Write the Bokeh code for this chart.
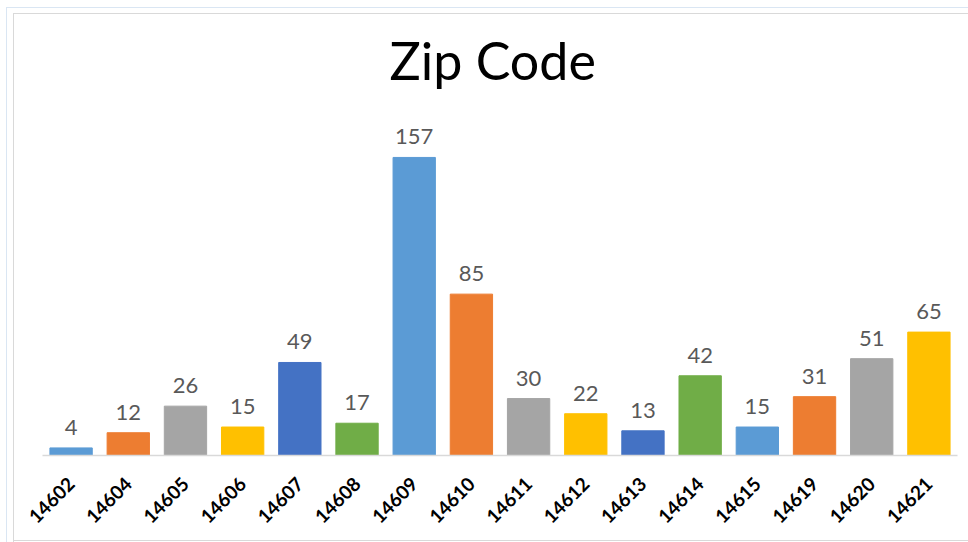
import math
from bokeh.plotting import figure
from bokeh.models import ColumnDataSource, LabelSet, Range1d
from bokeh.core.properties import value
from bokeh.embed import file_html
from bokeh.resources import INLINE

zip_codes = ["14602", "14604", "14605", "14606", "14607", "14608", "14609", "14610",
             "14611", "14612", "14613", "14614", "14615", "14619", "14620", "14621"]
counts = [4, 12, 26, 15, 49, 17, 157, 85, 30, 22, 13, 42, 15, 31, 51, 65]

palette = ["#5B9BD5", "#ED7D31", "#A5A5A5", "#FFC000", "#4472C4", "#70AD47"]
colors = [palette[i % len(palette)] for i in range(len(zip_codes))]

source = ColumnDataSource(data=dict(zip=zip_codes, count=counts, color=colors,
                                    label=[str(c) for c in counts]))

p = figure(x_range=zip_codes, y_range=Range1d(0, 187), width=968, height=542,
           output_backend="svg", toolbar_location=None,
           min_border_left=42, min_border_right=11, min_border_top=100,
           min_border_bottom=87)

p.vbar(x="zip", top="count", width=0.74, color="color", source=source)

labels = LabelSet(x="zip", y="count", text="label", source=source,
                  text_align="center", text_baseline="alphabetic", y_offset=13,
                  text_font=value("Lato"), text_font_size="22px", text_color="#595959")
p.add_layout(labels)

p.title.text = "Zip Code"
p.title.align = "left"
p.title.offset = 347
p.title.text_font = "Lato"
p.title.text_font_size = "52px"
p.title.text_font_style = "normal"
p.title.text_color = "#000000"
p.title.standoff = 20

p.yaxis.visible = False
p.xgrid.grid_line_color = None
p.ygrid.grid_line_color = None
p.outline_line_color = None

p.xaxis.axis_line_color = "#D9D9D9"
p.xaxis.axis_line_width = 1.5
p.xaxis.major_tick_line_color = None
p.xaxis.minor_tick_line_color = None
p.xaxis.major_label_orientation = math.pi / 4
p.xaxis.major_label_text_font = "Lato"
p.xaxis.major_label_text_font_style = "bold"
p.xaxis.major_label_text_font_size = "19px"
p.xaxis.major_label_text_color = "#000000"
p.xaxis.major_label_standoff = 19
p.x_range.range_padding = 0.0

p.border_fill_color = None
p.background_fill_color = None
g = "linear-gradient(#D9D9D9,#D9D9D9)"
b = "linear-gradient(#DAE6F3,#DAE6F3)"
p.styles = {
    "background-color": "white",
    "background-image": ", ".join([g, g, g, b, b]),
    "background-position": "13px 13px, 13px 13px, 13px 540px, 6px 7px, 6px 7px",
    "background-size": "1px 100%, 100% 1px, 100% 1px, 1px 100%, 100% 1px",
    "background-repeat": "no-repeat",
}

open("out.html", "w").write(file_html(p, INLINE))
